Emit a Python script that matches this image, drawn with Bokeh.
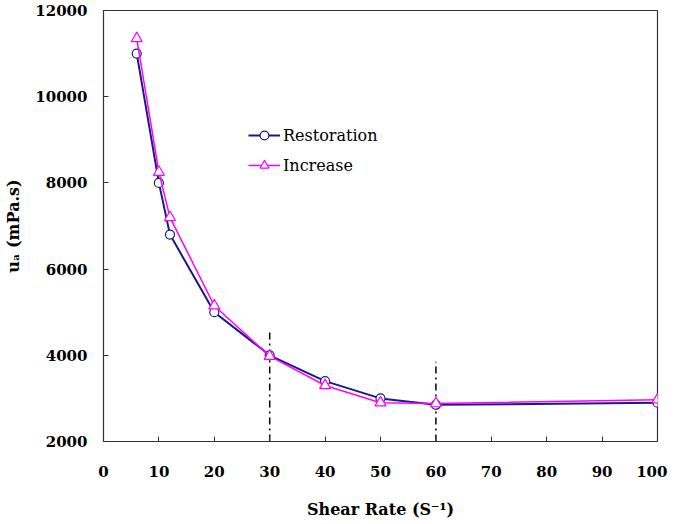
from bokeh.plotting import figure
from bokeh.models import Range1d, FixedTicker, Legend, LegendItem
from bokeh.embed import file_html
from bokeh.resources import INLINE

# ---- data ----
shear_rate = [6, 10, 12, 20, 30, 40, 50, 60, 100]
restoration = [11000, 8000, 6800, 5000, 4000, 3400, 3000, 2850, 2900]
increase = [11350, 8250, 7200, 5150, 3980, 3300, 2900, 2880, 2970]
vline_x = [30, 60]
vline_top = [4550, 3850]
vline_bottom = [2000, 2000]
x_ticks = [0, 10, 20, 30, 40, 50, 60, 70, 80, 90, 100]
y_ticks = [2000, 4000, 6000, 8000, 10000, 12000]

FONT = "DejaVu Serif"

p = figure(width=667, height=520, output_backend="svg", toolbar_location=None,
           x_range=Range1d(0, 100), y_range=Range1d(2000, 12000),
           min_border_left=103, min_border_right=10, min_border_top=10, min_border_bottom=79,
           frame_width=554, frame_height=431)
p.grid.visible = False
p.outline_line_color = "#333333"
p.outline_line_width = 1.2
p.background_fill_color = "white"
p.border_fill_color = "white"

for ax in (p.xaxis[0], p.yaxis[0]):
    ax.major_tick_in = 5
    ax.major_tick_out = 0
    ax.minor_tick_line_color = None
    ax.axis_line_color = "#333333"
    ax.major_tick_line_color = "#333333"
    ax.major_label_text_font = FONT
    ax.major_label_text_font_style = "bold"
    ax.major_label_text_font_size = "15px"
    ax.major_label_text_color = "black"
    ax.axis_label_text_font = FONT
    ax.axis_label_text_font_style = "bold"
    ax.axis_label_text_font_size = "16px"
    ax.axis_label_text_color = "black"

p.xaxis.ticker = FixedTicker(ticks=x_ticks)
p.yaxis.ticker = FixedTicker(ticks=y_ticks)
p.xaxis.major_label_standoff = 24
p.yaxis.major_label_standoff = 16
p.xaxis.axis_label = "Shear Rate (S⁻¹)"
p.yaxis.axis_label = "uₐ (mPa.s)"
p.xaxis.axis_label_standoff = 20
p.yaxis.axis_label_standoff = 9

# dash-dot reference lines
p.segment(x0=vline_x, y0=vline_bottom, x1=vline_x, y1=vline_top,
          line_color="black", line_width=1.5, line_dash="7 4 2 4")

r1l = p.line(shear_rate, restoration, line_color="#1a1a80", line_width=2)
r1m = p.scatter(shear_rate, restoration, marker="circle", size=9,
                line_color="#1a1a80", fill_color="white", line_width=1.2)
r2l = p.line(shear_rate, increase, line_color="#ff00ff", line_width=1.5)
r2m = p.scatter(shear_rate, increase, marker="triangle", size=11,
                line_color="#ff00ff", fill_color="white", line_width=1.2)

legend = Legend(items=[LegendItem(label="Restoration", renderers=[r1l, r1m]),
                       LegendItem(label="Increase", renderers=[r2l, r2m])],
                location=(145, 265))
legend.border_line_color = None
legend.background_fill_alpha = 0
legend.padding = 0
legend.margin = 0
legend.spacing = 8
legend.glyph_width = 32
legend.glyph_height = 22
legend.label_standoff = 3
legend.label_text_font = FONT
legend.label_text_font_size = "16px"
legend.label_text_color = "black"
p.add_layout(legend, "center")

open("out.html", "w").write(file_html(p, INLINE))
